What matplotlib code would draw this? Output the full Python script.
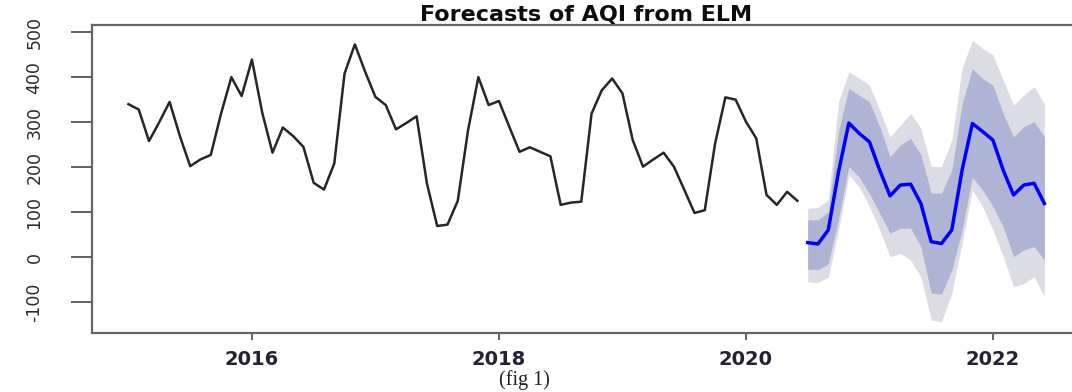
import numpy as np
import matplotlib
matplotlib.use("Agg")
import matplotlib.pyplot as plt

# Monthly AQI, Jan 2015 - Jun 2020
aqi_observed = [
    340, 328, 258, 300, 345, 269, 202, 217, 227, 319, 400, 358,   # 2015
    439, 321, 232, 288, 269, 245, 165, 150, 208, 408, 473, 412,   # 2016
    356, 338, 284, 298, 313, 164, 69, 72, 125, 282, 400, 338,     # 2017
    347, 290, 234, 244, 234, 224, 116, 121, 123, 319, 371, 397,   # 2018
    364, 260, 201, 217, 232, 201, 150, 98, 104, 252, 355, 350,    # 2019
    301, 264, 138, 116, 145, 125,                                 # 2020
]

# ELM forecast, Jul 2020 - Jun 2022, with 80% and 95% intervals
fc_mean = [32, 29, 60, 190, 298, 275, 256, 193, 136, 160, 162, 119,
           34, 30, 60, 193, 297, 279, 260, 193, 138, 160, 164, 119]
fc_hi80 = [82, 83, 100, 280, 375, 360, 345, 290, 223, 249, 264, 227,
           142, 142, 193, 340, 419, 397, 382, 319, 267, 290, 301, 267]
fc_lo80 = [-27, -28, -15, 85, 201, 178, 141, 97, 53, 64, 64, 23,
           -80, -83, -29, 60, 178, 149, 112, 67, 1, 16, 23, -7]
fc_hi95 = [108, 110, 128, 345, 412, 398, 382, 327, 267, 293, 319, 286,
           201, 201, 260, 420, 482, 464, 449, 393, 338, 360, 379, 341]
fc_lo95 = [-55, -57, -45, 60, 182, 156, 112, 60, 1, 8, -7, -44,
           -140, -144, -81, 30, 149, 112, 60, 1, -66, -59, -44, -88]

year_ticks = [2016, 2018, 2020, 2022]
y_ticks = [-100, 0, 100, 200, 300, 400, 500]

# decimal-year time index (monthly)
t_obs = 2015 + np.arange(len(aqi_observed)) / 12
t_fc = 2020.5 + np.arange(len(fc_mean)) / 12

fig = plt.figure(figsize=(10.72, 3.92), dpi=100)
ax = fig.add_axes([92 / 1072, 1 - 333 / 392, 989 / 1072, 308 / 392])

ax.fill_between(t_fc, fc_lo95, fc_hi95, color="#dcdce4", lw=0)
ax.fill_between(t_fc, fc_lo80, fc_hi80, color="#afb4d4", lw=0)
ax.plot(t_obs, aqi_observed, color="#262626", lw=1.8)
ax.plot(t_fc, fc_mean, color="#0000ff", lw=2.5)

ax.set_xlim(2014.705, 2022.713)
ax.set_ylim(-169, 516)

ax.set_xticks(year_ticks)
ax.set_xticklabels([str(y) for y in year_ticks])
ax.set_yticks(y_ticks)
ax.set_yticklabels([str(v) for v in y_ticks], rotation=90, va="center")

ax.tick_params(axis="y", length=15, width=1.3, color="#555555", pad=20,
               labelsize=12.5, labelcolor="#2b2b2b")
ax.tick_params(axis="x", length=5, width=1.3, color="#555555", pad=7,
               labelsize=14, labelcolor="#222233")
for lab in ax.get_xticklabels():
    lab.set_fontweight("bold")

for side in ["left", "top", "bottom", "right"]:
    ax.spines[side].set_color("#666666")
    ax.spines[side].set_linewidth(1.6)

ax.set_title("Forecasts of AQI from ELM", fontsize=16, fontweight="bold",
             pad=1, color="#0d0d0d")

fig.text(524 / 1072, 1 - 380 / 392, "(fig 1)", family="Liberation Serif",
         fontsize=14.5, ha="center", va="center", color="#222222")

fig.savefig("out.png", dpi=100)
